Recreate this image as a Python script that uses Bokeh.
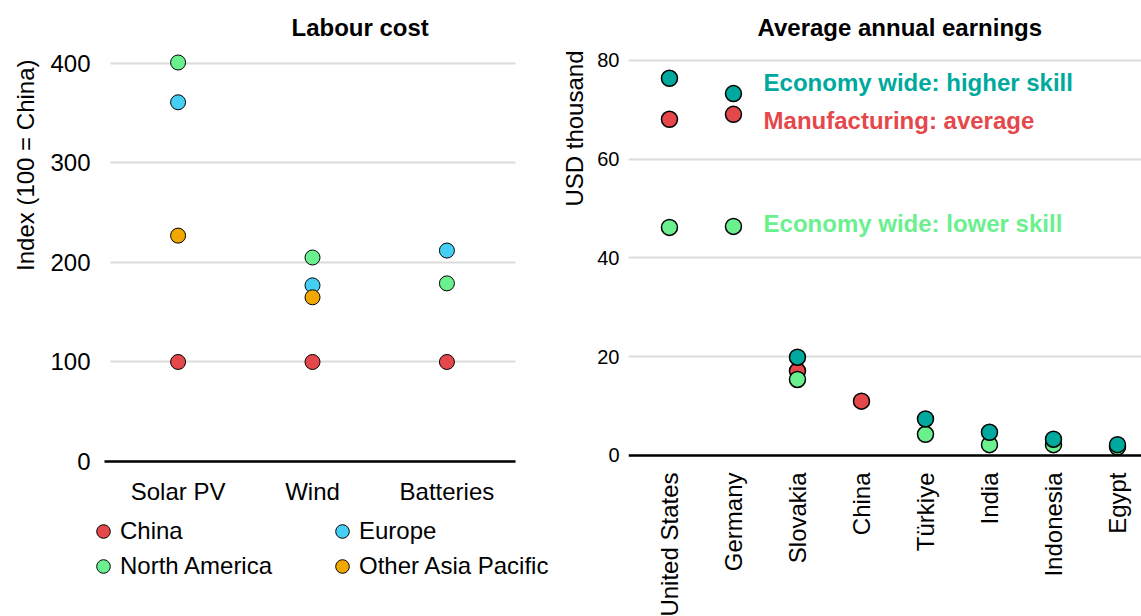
import math
from bokeh.plotting import figure
from bokeh.models import (ColumnDataSource, Range1d, FixedTicker, Legend, Grid,
                          LegendItem, LabelSet, Label, Title, Span)
from bokeh.layouts import row
from bokeh.embed import file_html
from bokeh.resources import INLINE
from bokeh.core.properties import value

nan = float("nan")

# ---- Left chart data: Labour cost index (100 = China)
technologies = ["Solar PV", "Wind", "Batteries"]
labour_china = [100, 100, 100]
labour_europe = [361, 177, 212]
labour_north_america = [401, 205, 179]
labour_other_asia_pacific = [227, 165, nan]
labour_ticks = [0, 100, 200, 300, 400]

# ---- Right chart data: Average annual earnings (USD thousand)
countries = ["United States", "Germany", "Slovakia", "China", "Türkiye", "India", "Indonesia", "Egypt"]
earn_higher_skill = [76.4, 73.3, 19.9, nan, 7.4, 4.7, 3.3, 2.2]
earn_manufacturing = [68.1, 69.1, 17.1, 11.0, nan, nan, nan, nan]
earn_lower_skill = [46.2, 46.4, 15.4, nan, 4.3, 2.2, 2.2, 1.7]
earn_ticks = [0, 20, 40, 60, 80]

FONT = "Liberation Sans"
C_CHINA = "#E5484B"
C_EUROPE = "#45CFF5"
C_NA = "#6AF08E"
C_OAP = "#F0A800"
C_TEAL = "#00A99D"
C_RED = "#E5484B"
C_LGREEN = "#6AF08E"
GRID = "#DCDCDC"
H = 616


def style_common(p):
    p.outline_line_color = None
    p.xgrid.visible = False
    p.ygrid.grid_line_color = GRID
    p.ygrid.grid_line_width = 2
    p.xaxis.visible = False
    p.yaxis.axis_line_color = None
    p.yaxis.major_tick_line_color = None
    p.yaxis.minor_tick_line_color = None
    p.yaxis.major_tick_out = 0
    p.yaxis.minor_tick_out = 0
    p.yaxis.major_label_text_font = FONT
    p.yaxis.major_label_text_color = "black"
    p.title.align = "left"
    p.title.standoff = 0
    p.title.text_font_size = "24px"
    p.title.text_font = FONT
    p.title.text_font_style = "bold"
    p.title.text_color = "black"


# ================= Left figure =================
tech_idx = list(range(len(technologies)))
p1 = figure(x_range=Range1d(-0.607, 2.778), y_range=Range1d(-155.8, 423.1),
            width=551, height=H, output_backend="svg", toolbar_location=None,
            min_border_left=94, min_border_right=0, min_border_top=40, min_border_bottom=0)
style_common(p1)
p1.title.text = "Labour cost"
p1.title.offset = 195
p1.yaxis.ticker = FixedTicker(ticks=labour_ticks)
p1.yaxis.major_label_text_font_size = "24px"
p1.yaxis.major_label_standoff = 6
p1.add_layout(Title(text="Index (100 = China)", align="right", offset=19, standoff=18,
                    text_font_size="24px", text_font=FONT, text_font_style="normal",
                    text_color="black"), "left")

# grid lines and the zero line limited to the plotting area of the reference
axis_line = Grid(dimension=1, ticker=FixedTicker(ticks=[0]), grid_line_color="black",
                 grid_line_width=2.5)
try:
    p1.ygrid.cross_bounds = (-0.503, 2.511)
    axis_line.cross_bounds = (-0.548, 2.511)
    p1.add_layout(axis_line)
except Exception:
    p1.add_layout(Span(location=0, dimension="width", line_color="black", line_width=2.5))

src1 = ColumnDataSource(dict(x=tech_idx, tech=technologies, y0=[0] * len(technologies),
                             china=labour_china, europe=labour_europe,
                             na=labour_north_america, oap=labour_other_asia_pacific))
rend = []
for col, color in [("china", C_CHINA), ("europe", C_EUROPE), ("na", C_NA), ("oap", C_OAP)]:
    r = p1.scatter(x="x", y=col, source=src1, size=15, fill_color=color,
                   line_color="black", line_width=1)
    rend.append(r)

p1.add_layout(LabelSet(x="x", y="y0", text="tech", source=src1, y_offset=-30,
                       text_align="center", text_baseline="middle",
                       text_font_size="24px", text_font=value(FONT), text_color="black"))

legend = Legend(items=[LegendItem(label="China", renderers=[rend[0]]),
                       LegendItem(label="Europe", renderers=[rend[1]]),
                       LegendItem(label="North America", renderers=[rend[2]]),
                       LegendItem(label="Other Asia Pacific", renderers=[rend[3]])],
                orientation="horizontal", ncols=2, glyph_width=34, glyph_height=34,
                label_standoff=0, label_width=204, spacing=1, padding=0, margin=0,
                border_line_color=None, background_fill_alpha=0,
                label_text_font_size="24px", label_text_font=FONT, label_text_color="black",
                location=(-10, 33))
p1.add_layout(legend)

# ================= Right figure =================
xs = list(range(len(countries)))
p2 = figure(x_range=Range1d(-0.64, 7.375), y_range=Range1d(-32.61, 84.05),
            width=590, height=H, output_backend="svg", toolbar_location=None,
            min_border_left=77, min_border_right=0, min_border_top=40, min_border_bottom=0)
style_common(p2)
p2.title.text = "Average annual earnings"
p2.title.offset = 129
p2.yaxis.ticker = FixedTicker(ticks=earn_ticks)
p2.yaxis.major_label_text_font_size = "20px"
p2.yaxis.major_label_standoff = 9
p2.add_layout(Title(text="USD thousand", align="right", offset=10, standoff=14,
                    text_font_size="24px", text_font=FONT, text_font_style="normal",
                    text_color="black"), "left")
p2.add_layout(Span(location=0, dimension="width", line_color="black", line_width=2.5))

src2 = ColumnDataSource(dict(x=xs, country=countries, y0=[0] * len(countries),
                             hi=earn_higher_skill, mf=earn_manufacturing, lo=earn_lower_skill))
for col, color in [("mf", C_RED), ("lo", C_LGREEN), ("hi", C_TEAL)]:
    p2.scatter(x="x", y=col, source=src2, size=16, fill_color=color,
               line_color="black", line_width=1.5)

p2.add_layout(LabelSet(x="x", y="y0", text="country", source=src2, angle=math.pi / 2,
                       text_align="right", text_baseline="middle", y_offset=-17,
                       text_font_size="24px", text_font=value(FONT), text_color="black"))

for txt, yv, color in [("Economy wide: higher skill", 75.5, C_TEAL),
                       ("Manufacturing: average", 67.8, C_RED),
                       ("Economy wide: lower skill", 47.0, C_LGREEN)]:
    p2.add_layout(Label(x=1.47, y=yv, text=txt, text_color=color, text_font=FONT,
                        text_font_style="bold", text_font_size="24px", text_baseline="middle"))

layout = row(p1, p2)
open("out.html", "w").write(file_html(layout, INLINE))
